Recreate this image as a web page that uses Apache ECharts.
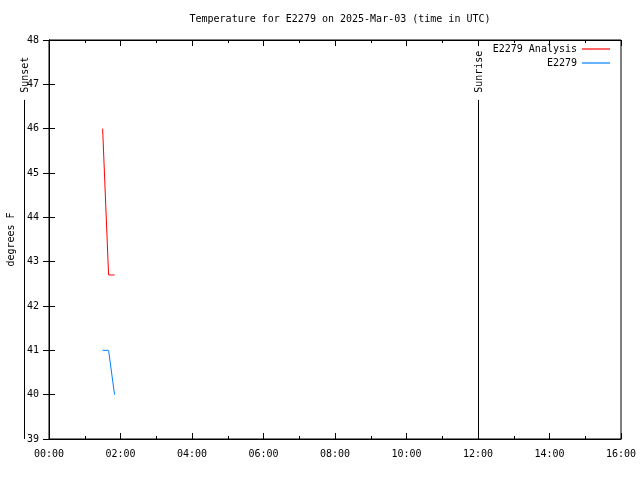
<!DOCTYPE html>
<html><head><meta charset="utf-8">
<script src="https://cdn.jsdelivr.net/npm/echarts@6/dist/echarts.min.js"></script>
<style>html,body{margin:0;padding:0;background:#fff}#c{width:640px;height:480px}</style>
</head><body><div id="c"></div>
<script>
// ---- data ----
const times = ['01:30', '01:40', '01:50'];
const analysisVals = [46.0, 42.7, 42.7];
const obsVals = [41.0, 41.0, 40.0];
const eventNames = ['Sunset', 'Sunrise'];
const eventTimes = ['-00:42', '12:00'];
const eventTopValue = 46.65;
const xTickLabels = ['00:00', '02:00', '04:00', '06:00', '08:00', '10:00', '12:00', '14:00', '16:00'];
const yTickLabels = ['39', '40', '41', '42', '43', '44', '45', '46', '47', '48'];
const seriesNames = ['E2279 Analysis', 'E2279'];
const titleText = 'Temperature for E2279 on 2025-Mar-03 (time in UTC)';
const yName = 'degrees F';

function toHours(s) {
  const neg = s[0] === '-';
  const p = s.replace('-', '').split(':');
  const h = (+p[0]) + (+p[1]) / 60;
  return neg ? -h : h;
}

const FONT = 'DejaVu Sans Mono';
const chart = echarts.init(document.getElementById('c'), null, { renderer: 'canvas' });

const xMin = toHours(xTickLabels[0]);
const xMax = toHours(xTickLabels[xTickLabels.length - 1]);
const xInt = toHours(xTickLabels[1]) - xMin;
const yMin = +yTickLabels[0], yMax = +yTickLabels[yTickLabels.length - 1];

const baseX = {
  type: 'value', min: xMin, max: xMax, interval: xInt,
  splitLine: { show: false },
  axisLine: { show: true, lineStyle: { color: '#000', width: 1 } },
  axisTick: { show: true, inside: true, length: 6, lineStyle: { color: '#000' } },
  minorTick: { show: true, splitNumber: 2, length: 3, lineStyle: { color: '#000' } },
};
const baseY = {
  type: 'value', min: yMin, max: yMax, interval: 1,
  splitLine: { show: false },
  axisLine: { show: true, lineStyle: { color: '#000', width: 1 } },
  axisTick: { show: true, inside: true, length: 6, lineStyle: { color: '#000' } },
};

const legendCommon = { right: 30, padding: 0, align: 'right', icon: 'rect', itemWidth: 28, itemHeight: 1.2,
  textStyle: { fontFamily: FONT, fontSize: 10, color: '#000' } };

const option = {
  animation: false,
  backgroundColor: '#fff',
  title: {
    text: titleText, left: 335, top: 9, textAlign: 'center',
    textStyle: { fontFamily: FONT, fontSize: 10, fontWeight: 'normal', color: '#000' }
  },
  grid: { left: 49, right: 19, top: 40, bottom: 41, show: true, borderColor: '#000', borderWidth: 1,
    containLabel: false, outerBoundsMode: 'none' },
  legend: [
    Object.assign({ data: [seriesNames[0]], top: 44 }, legendCommon),
    Object.assign({ data: [seriesNames[1]], top: 58 }, legendCommon)
  ],
  xAxis: [
    Object.assign({}, baseX, {
      position: 'bottom',
      axisLabel: { margin: 10, fontFamily: FONT, fontSize: 10, color: '#000',
        formatter: v => xTickLabels[Math.round((v - xMin) / xInt)] }
    }),
    Object.assign({}, baseX, { position: 'top', axisLabel: { show: false } })
  ],
  yAxis: [
    Object.assign({}, baseY, {
      position: 'left',
      name: yName, nameLocation: 'middle', nameGap: 33, nameRotate: 90,
      nameTextStyle: { fontFamily: FONT, fontSize: 10, color: '#000' },
      axisLabel: { margin: 10, fontFamily: FONT, fontSize: 10, color: '#000',
        formatter: v => yTickLabels[Math.round(v - yMin)] }
    }),
    Object.assign({}, baseY, { position: 'right', axisLabel: { show: false } })
  ],
  series: [
    {
      name: seriesNames[0], type: 'line', xAxisIndex: 0, yAxisIndex: 0,
      data: times.map((t, i) => [toHours(t), analysisVals[i]]),
      showSymbol: false, symbol: 'none', color: '#ff0000',
      lineStyle: { color: '#ff0000', width: 1 }
    },
    {
      name: seriesNames[1], type: 'line', xAxisIndex: 0, yAxisIndex: 0,
      data: times.map((t, i) => [toHours(t), obsVals[i]]),
      showSymbol: false, symbol: 'none', color: '#0080ff',
      lineStyle: { color: '#0080ff', width: 1 }
    },
    {
      type: 'custom', xAxisIndex: 0, yAxisIndex: 0, clip: false, silent: true,
      data: eventTimes.map((t, i) => [toHours(t), i]),
      renderItem: function (params, api) {
        const t = api.value(0);
        const name = eventNames[api.value(1)];
        const bot = api.coord([t, yMin]);
        const top = api.coord([t, eventTopValue]);
        const x = Math.round(bot[0]) + 0.5;
        return {
          type: 'group',
          children: [
            { type: 'line', shape: { x1: x, y1: top[1], x2: x, y2: bot[1] },
              style: { stroke: '#000', lineWidth: 1 } },
            { type: 'text', x: x + 1, y: top[1] - 7, rotation: Math.PI / 2,
              style: { text: name, font: '10px "DejaVu Sans Mono"', fill: '#000',
                textAlign: 'left', textVerticalAlign: 'middle' } }
          ]
        };
      }
    }
  ]
};
chart.setOption(option);
</script></body></html>
